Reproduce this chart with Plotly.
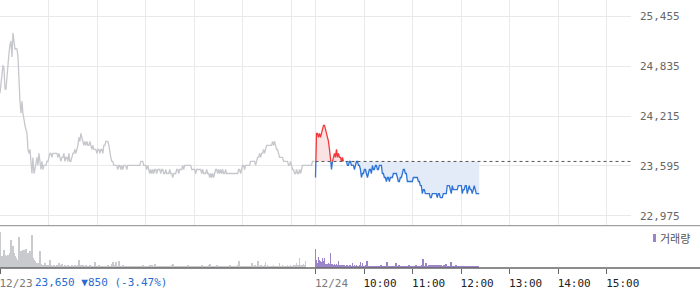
import plotly.graph_objects as go

# ---------------- data ----------------
BASE = 23650                 # 12/23 close (reference level for 12/24)
SAMPLE = 390 / 316           # minutes per sample (session 09:00-15:30)
DAY2_START = 390             # 12/24 09:00 on the compressed session axis

price_1223 = [
    24500, 24600, 24700, 24850, 24800, 24550, 24550, 24750, 24950, 25000,
    25100, 25150, 24950, 25250, 25150, 25050, 25050, 25050, 24950, 24600,
    24400, 24250, 24400, 24250, 24150, 24100, 24050, 24000, 23800, 23750,
    23800, 23650, 23500, 23700, 23500, 23550, 23650, 23700, 23600, 23750,
    23650, 23550, 23650, 23550, 23600, 23600, 23600, 23650, 23650, 23700,
    23750, 23750, 23700, 23750, 23750, 23750, 23750, 23750, 23700, 23750,
    23700, 23650, 23700, 23700, 23750, 23650, 23700, 23700, 23650, 23750,
    23650, 23650, 23700, 23750, 23750, 23800, 23750, 23800, 23850, 23950,
    23900, 24000, 23950, 23900, 23850, 23900, 23850, 23900, 23850, 23850,
    23900, 23850, 23800, 23850, 23800, 23800, 23800, 23750, 23800, 23800,
    23750, 23800, 23800, 23750, 23850, 23850, 23900, 23900, 23900, 23850,
    23750, 23700, 23650, 23650, 23600, 23600, 23600, 23600, 23550, 23600,
    23600, 23550, 23600, 23550, 23600, 23600, 23600, 23550, 23600, 23600,
    23600, 23600, 23600, 23600, 23600, 23600, 23600, 23600, 23600, 23600,
    23600, 23650, 23650, 23650, 23600, 23600, 23600, 23550, 23600, 23550,
    23500, 23550, 23500, 23550, 23500, 23550, 23550, 23500, 23550, 23550,
    23550, 23500, 23550, 23550, 23500, 23500, 23550, 23500, 23500, 23500,
    23550, 23500, 23500, 23450, 23500, 23500, 23500, 23550, 23550, 23500,
    23550, 23550, 23550, 23600, 23550, 23600, 23600, 23600, 23600, 23600,
    23600, 23600, 23550, 23550, 23550, 23550, 23500, 23550, 23550, 23550,
    23550, 23550, 23500, 23550, 23500, 23500, 23500, 23550, 23500, 23500,
    23450, 23500, 23450, 23500, 23450, 23500, 23550, 23550, 23500, 23550,
    23500, 23550, 23500, 23550, 23500, 23500, 23550, 23500, 23500, 23500,
    23500, 23500, 23500, 23500, 23500, 23500, 23500, 23500, 23500, 23550,
    23550, 23500, 23550, 23600, 23600, 23550, 23600, 23600, 23600, 23600,
    23600, 23650, 23650, 23650, 23650, 23650, 23600, 23650, 23700, 23700,
    23750, 23700, 23750, 23750, 23800, 23750, 23800, 23850, 23850, 23850,
    23850, 23850, 23850, 23900, 23850, 23900, 23850, 23800, 23800, 23750,
    23700, 23700, 23700, 23700, 23650, 23650, 23650, 23650, 23650, 23600,
    23600, 23650, 23600, 23550, 23550, 23500, 23500, 23550, 23500, 23500,
    23550, 23500, 23550, 23600, 23600, 23600, 23600, 23600, 23600, 23600,
    23600, 23600, 23600, 23650, 23650, 23650,
]

price_1224 = [
    23450, 24000, 24000, 23950, 24000, 23950, 24000, 24050, 24100, 24100,
    24050, 24000, 23950, 23900, 23800, 23700, 23550, 23650, 23700, 23750,
    23700, 23800, 23700, 23750, 23700, 23700, 23650, 23700, 23650, 23650,
    23650, 23650, 23600, 23600, 23650, 23650, 23600, 23600, 23600, 23550,
    23600, 23650, 23650, 23600, 23600, 23550, 23450, 23500, 23500, 23550,
    23550, 23500, 23450, 23500, 23550, 23550, 23500, 23600, 23550, 23550,
    23600, 23600, 23550, 23550, 23600, 23600, 23600, 23500, 23500, 23450,
    23450, 23400, 23450, 23450, 23400, 23450, 23450, 23450, 23500, 23500,
    23500, 23500, 23450, 23400, 23400, 23450, 23450, 23500, 23550, 23550,
    23500, 23500, 23400, 23400, 23400, 23400, 23400, 23400, 23450, 23450,
    23450, 23450, 23450, 23400, 23400, 23350, 23350, 23250, 23300, 23300,
    23250, 23250, 23250, 23250, 23250, 23200, 23200, 23250, 23250, 23250,
    23250, 23250, 23200, 23250, 23250, 23200, 23200, 23200, 23250, 23250,
    23250, 23250, 23350, 23350, 23350, 23300, 23250, 23350, 23300, 23300,
    23300, 23300, 23300, 23350, 23350, 23350, 23350, 23250, 23300, 23300,
    23350, 23350, 23250, 23300, 23350, 23300, 23300, 23250, 23300, 23350,
    23300, 23250, 23250, 23250, 23250,
]

# volume in thousand shares
vol_1223 = [
    36, 12, 10, 12, 18, 13, 12, 12, 13, 12,
    15, 28, 17, 22, 15, 12, 10, 8, 8, 31,
    10, 17, 10, 18, 18, 8, 19, 13, 15, 13,
    17, 13, 33, 10, 8, 7, 5, 5, 5, 3,
    17, 4, 3, 3, 3, 5, 3, 3, 3, 2,
    8, 3, 2, 2, 3, 2, 2, 3, 2, 5,
    2, 3, 4, 2, 2, 3, 2, 2, 3, 2,
    2, 2, 3, 2, 2, 3, 2, 2, 3, 8,
    2, 3, 2, 3, 2, 2, 3, 2, 2, 2,
    3, 2, 2, 2, 2, 6, 2, 2, 2, 3,
    2, 2, 2, 2, 2, 2, 2, 2, 3, 2,
    2, 2, 4, 6, 2, 3, 6, 2, 2, 7,
    2, 2, 2, 3, 2, 2, 2, 2, 2, 2,
    2, 2, 2, 2, 2, 2, 2, 2, 2, 2,
    2, 2, 2, 3, 2, 2, 2, 2, 2, 2,
    3, 2, 3, 2, 2, 4, 2, 2, 2, 2,
    2, 2, 2, 2, 2, 2, 2, 2, 2, 2,
    2, 2, 3, 4, 2, 2, 2, 2, 2, 2,
    2, 2, 2, 2, 2, 2, 2, 2, 3, 2,
    2, 2, 2, 2, 2, 2, 2, 2, 2, 2,
    2, 2, 3, 2, 2, 2, 2, 2, 2, 3,
    4, 2, 2, 2, 2, 2, 2, 3, 2, 2,
    2, 2, 2, 2, 2, 2, 2, 2, 2, 2,
    3, 2, 2, 2, 2, 2, 2, 2, 3, 7,
    2, 2, 2, 2, 2, 2, 2, 2, 2, 2,
    2, 2, 5, 2, 2, 3, 2, 2, 7, 2,
    2, 3, 2, 2, 2, 3, 6, 2, 3, 2,
    2, 2, 2, 2, 3, 2, 2, 2, 2, 2,
    5, 2, 2, 3, 2, 2, 2, 2, 3, 2,
    2, 3, 2, 2, 3, 3, 3, 5, 3, 3,
    10, 3, 3, 3, 4, 3, 7, 0, 0, 0,
    0, 0, 0, 0, 0, 0,
]

vol_1224 = [
    19, 8, 5, 11, 8, 7, 6, 10, 7, 10,
    4, 4, 4, 5, 4, 15, 4, 4, 3, 4,
    3, 4, 3, 7, 3, 3, 3, 3, 3, 3,
    2, 3, 3, 2, 3, 3, 2, 5, 2, 3,
    2, 3, 2, 2, 3, 6, 2, 5, 2, 2,
    3, 2, 7, 2, 2, 2, 2, 2, 2, 2,
    2, 2, 2, 2, 2, 2, 3, 2, 2, 2,
    2, 2, 6, 2, 2, 2, 2, 2, 2, 2,
    2, 5, 2, 2, 3, 2, 2, 2, 2, 2,
    2, 2, 2, 2, 3, 2, 2, 2, 2, 2,
    2, 3, 2, 2, 2, 2, 2, 3, 9, 2,
    2, 5, 2, 2, 3, 2, 3, 2, 3, 2,
    3, 2, 3, 2, 3, 2, 3, 2, 2, 3,
    2, 4, 2, 2, 2, 2, 6, 2, 2, 2,
    2, 3, 2, 0, 2, 0, 2, 0, 2, 0,
    2, 2, 0, 2, 0, 2, 2, 0, 2, 0,
    2, 0, 2, 2, 0,
]

price_ticks = [22975, 23595, 24215, 24835, 25455]
grid_vals = [0, 60, 120, 180, 240, 300, 360, 390, 450, 510, 570, 630, 690, 750]
time_tickvals = [0, 390, 450, 510, 570, 630, 690, 750]
time_ticktext = ["12/23", "12/24", "10:00", "11:00", "12:00", "13:00", "14:00", "15:00"]
summary_text = "23,650 ▼850 (-3.47%)"
volume_label = "거래량"

# ---------------- colours ----------------
GRAY_LINE = "#c6c7cc"
RED = "#f2383a"
BLUE = "#2e73d6"
RED_FILL = "#fbe3e4"
BLUE_FILL = "#e3ebf8"
VOL_GRAY = "#c9cacd"
VOL_PURPLE = "#9a85c8"
GRID = "#e9e9e9"
MONO = "DejaVu Sans Mono, monospace"

# ---------------- derived x positions ----------------
t23 = [i * SAMPLE for i in range(len(price_1223))]
t24 = [DAY2_START + i * SAMPLE for i in range(len(price_1224))]

# insert crossing points of the 12/24 series with the base level
xs, ys = [], []
for i, (t, p) in enumerate(zip(t24, price_1224)):
    xs.append(t)
    ys.append(p)
    if i + 1 < len(t24):
        p2 = price_1224[i + 1]
        if (p - BASE) * (p2 - BASE) < 0:
            tc = t + (BASE - p) / (p2 - p) * (t24[i + 1] - t)
            xs.append(tc)
            ys.append(BASE)

n = len(ys)
red_y, blue_y = [], []
for j in range(n):
    prev_v = ys[j - 1] if j > 0 else None
    next_v = ys[j + 1] if j + 1 < n else None
    up = ys[j] > BASE or (prev_v is not None and prev_v > BASE) or (next_v is not None and next_v > BASE)
    dn = ys[j] < BASE or (prev_v is not None and prev_v < BASE) or (next_v is not None and next_v < BASE)
    red_y.append(ys[j] if up else None)
    blue_y.append(ys[j] if dn else None)
up_fill = [max(v, BASE) for v in ys]
dn_fill = [min(v, BASE) for v in ys]
base_line = [BASE] * n

fig = go.Figure()

# fills
fig.add_trace(go.Scatter(x=xs, y=base_line, mode="lines", line=dict(width=0), hoverinfo="skip"))
fig.add_trace(go.Scatter(x=xs, y=up_fill, mode="lines", line=dict(width=0), fill="tonexty",
                         fillcolor=RED_FILL, hoverinfo="skip"))
fig.add_trace(go.Scatter(x=xs, y=base_line, mode="lines", line=dict(width=0), hoverinfo="skip"))
fig.add_trace(go.Scatter(x=xs, y=dn_fill, mode="lines", line=dict(width=0), fill="tonexty",
                         fillcolor=BLUE_FILL, hoverinfo="skip"))

# lines
fig.add_trace(go.Scatter(x=t23, y=price_1223, mode="lines", line=dict(color=GRAY_LINE, width=1.3)))
fig.add_trace(go.Scatter(x=xs, y=blue_y, mode="lines", line=dict(color=BLUE, width=1.3), connectgaps=False))
fig.add_trace(go.Scatter(x=xs, y=red_y, mode="lines", line=dict(color=RED, width=1.3), connectgaps=False))

# volume
fig.add_trace(go.Bar(x=t23, y=vol_1223, width=SAMPLE * 0.85, marker=dict(color=VOL_GRAY, line=dict(width=0)),
                     xaxis="x2", yaxis="y2"))
fig.add_trace(go.Bar(x=t24, y=vol_1224, width=SAMPLE * 0.85, marker=dict(color=VOL_PURPLE, line=dict(width=0)),
                     xaxis="x2", yaxis="y2"))

W, H = 700, 289
PLOT_W = 631
PLOT_H = 268
price_bottom = (PLOT_H - 225.7) / PLOT_H
vol_top = (PLOT_H - 231) / PLOT_H

tick_text_html = []
for i, txt in enumerate(time_ticktext):
    col = "#7a7a7a" if "/" in txt else "#222"
    tick_text_html.append(f"<span style='color:{col}'>{txt}</span>")

fig.update_layout(
    width=W, height=H,
    margin=dict(l=0, r=W - PLOT_W, t=0, b=H - PLOT_H),
    paper_bgcolor="white", plot_bgcolor="white",
    showlegend=False,
    bargap=0,
    xaxis=dict(domain=[0, 1], range=[0, 780], anchor="y", tickvals=grid_vals, showticklabels=False,
               showgrid=True, gridcolor=GRID, gridwidth=1, zeroline=False, ticks=""),
    yaxis=dict(domain=[price_bottom, 1], range=[22850, 25660], side="right", tickvals=price_ticks,
               tickformat=",d", showgrid=True, gridcolor=GRID, gridwidth=1, zeroline=False,
               ticks="", ticklabelstandoff=8,
               tickfont=dict(family=MONO, size=11, color="#666")),
    xaxis2=dict(domain=[0, 1], range=[0, 780], anchor="y2", tickvals=time_tickvals, ticktext=tick_text_html,
                showgrid=False, zeroline=False, ticks="outside", ticklen=5, tickcolor="#666", tickwidth=1,
                ticklabelshift=16, ticklabeloverflow="allow",
                tickfont=dict(family=MONO, size=11, color="#222")),
    yaxis2=dict(domain=[0, vol_top], range=[0, 37], showgrid=False, zeroline=False, showticklabels=False,
                ticks=""),
)

full_x1 = W / PLOT_W
fig.add_shape(type="line", xref="paper", yref="paper", x0=0, x1=full_x1, y0=price_bottom, y1=price_bottom,
              line=dict(color="#8a8a8a", width=1))
fig.add_shape(type="line", xref="paper", yref="paper", x0=0, x1=full_x1, y0=0, y1=0,
              line=dict(color="#666", width=1.5))
fig.add_shape(type="line", xref="x", yref="y", x0=DAY2_START, x1=780, y0=BASE, y1=BASE,
              line=dict(color="#555", width=1, dash="dot"))
# volume legend marker
fig.add_shape(type="rect", xref="paper", yref="paper",
              x0=653 / PLOT_W, x1=656 / PLOT_W, y0=(PLOT_H - 242) / PLOT_H, y1=(PLOT_H - 234) / PLOT_H,
              fillcolor=VOL_PURPLE, line=dict(width=0))
fig.add_annotation(text=volume_label, xref="paper", yref="paper", x=658 / PLOT_W, y=(PLOT_H - 238) / PLOT_H,
                   xanchor="left", yanchor="middle", showarrow=False,
                   font=dict(family="Noto Sans CJK KR", size=11, color="#555"))
fig.add_annotation(text=summary_text, xref="paper", yref="paper", x=33 / PLOT_W, y=-(282 - PLOT_H) / PLOT_H,
                   xanchor="left", yanchor="middle", showarrow=False,
                   font=dict(family=MONO, size=11, color="#2a6ccf"))

fig.write_html("out.html")
